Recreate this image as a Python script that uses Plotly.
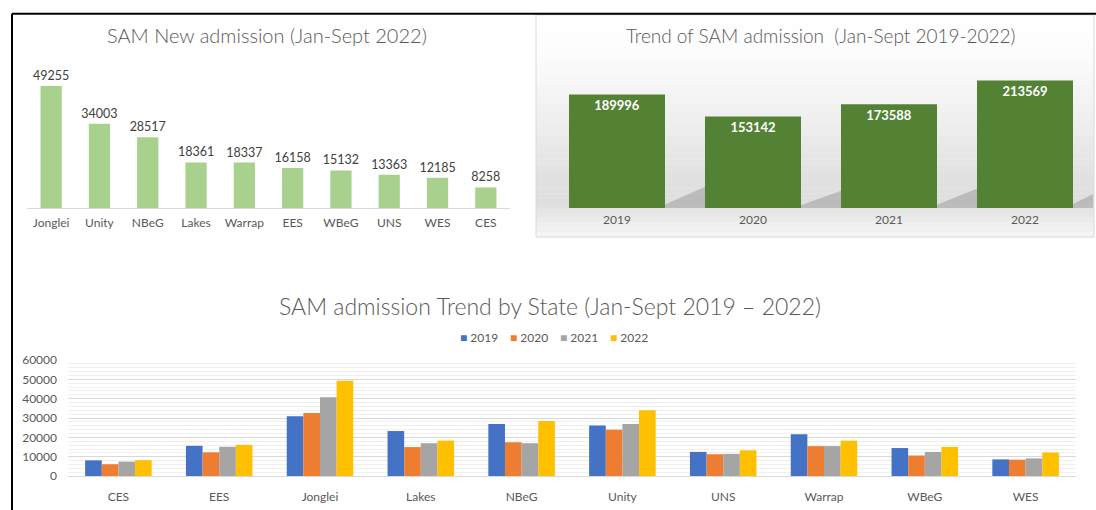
import plotly.graph_objects as go

# ---------------- data ----------------
states_2022_sorted = ["Jonglei", "Unity", "NBeG", "Lakes", "Warrap", "EES", "WBeG", "UNS", "WES", "CES"]
admission_2022_sorted = [49255, 34003, 28517, 18361, 18337, 16158, 15132, 13363, 12185, 8258]

years = ["2019", "2020", "2021", "2022"]
total_by_year = [189996, 153142, 173588, 213569]

states = ["CES", "EES", "Jonglei", "Lakes", "NBeG", "Unity", "UNS", "Warrap", "WBeG", "WES"]
adm_2019 = [8150, 15650, 31000, 23300, 27000, 26150, 12500, 21650, 14500, 8650]
adm_2020 = [6150, 12300, 32650, 15000, 17500, 24000, 11300, 15500, 10650, 8500]
adm_2021 = [7500, 15150, 40800, 17000, 17000, 27000, 11500, 15500, 12500, 9150]
adm_2022 = [8258, 16158, 49255, 18361, 28517, 34003, 13363, 18337, 15132, 12185]

series_colors = ["#4472C4", "#ED7D31", "#A5A5A5", "#FFC000"]

# ---------------- layout helpers ----------------
W, H = 1096, 510
FONT = "Lato"
GRAY_TXT = "#595959"


def fx(p):
    return p / W


def fy(p):
    return 1 - p / H


fig = go.Figure()

# top-left chart
fig.add_trace(go.Bar(
    x=states_2022_sorted, y=admission_2022_sorted, width=0.44,
    marker=dict(color="#A9D18E", line=dict(width=0)),
    text=[str(v) for v in admission_2022_sorted], textposition="outside", constraintext="none",
    textfont=dict(family=FONT, size=12.5, color="#404040"),
    cliponaxis=False, xaxis="x", yaxis="y", showlegend=False, hoverinfo="skip",
))

# top-right chart
fig.add_trace(go.Bar(
    x=years, y=total_by_year, width=0.706,
    marker=dict(color="#548235", line=dict(width=0)),
    text=[str(v) for v in total_by_year], textposition="inside", insidetextanchor="end",
    constraintext="none",
    textfont=dict(family=FONT, size=13, color="white", weight="bold"),
    xaxis="x2", yaxis="y2", showlegend=False, hoverinfo="skip",
))

# bottom chart
for name, vals, col in zip(years, [adm_2019, adm_2020, adm_2021, adm_2022], series_colors):
    fig.add_trace(go.Bar(
        x=states, y=vals, name=name, marker=dict(color=col, line=dict(width=0)),
        xaxis="x3", yaxis="y3", hoverinfo="skip", showlegend=False,
    ))

shapes = []

# gradient background of the top-right panel (decoration)
panel_x0, panel_x1, panel_y0, panel_y1 = 536, 1094, 7, 236
stops = [(7, 255), (50, 252), (110, 240), (170, 226), (200, 222), (215, 232), (236, 246)]
nb = 46
for k in range(nb):
    a = panel_y0 + (panel_y1 - panel_y0) * k / nb
    b = panel_y0 + (panel_y1 - panel_y0) * (k + 1) / nb
    m = (a + b) / 2
    for (p0, c0), (p1, c1) in zip(stops[:-1], stops[1:]):
        if p0 <= m <= p1:
            c = c0 + (c1 - c0) * (m - p0) / (p1 - p0)
            break
    c = int(round(c))
    shapes.append(dict(type="rect", xref="paper", yref="paper",
                       x0=fx(panel_x0), x1=fx(panel_x1), y0=fy(b), y1=fy(a) + 0.0005,
                       fillcolor=f"rgb({c},{c},{c})", line=dict(width=0), layer="below"))
shapes.append(dict(type="rect", xref="paper", yref="paper",
                   x0=fx(panel_x0), x1=fx(panel_x1), y0=fy(panel_y1), y1=fy(panel_y0),
                   line=dict(color="#D9D9D9", width=1), fillcolor="rgba(0,0,0,0)", layer="below"))

# perspective shadows behind the dark-green bars
half = 0.706 / 2
for i, v in enumerate(total_by_year):
    x0 = i + half
    shapes.append(dict(type="path", xref="x2", yref="y2",
                       path=f"M {x0},0 L {x0},{v*0.03} L {x0+0.30},{v*0.19} L {x0+0.30},0 Z",
                       fillcolor="rgba(120,120,120,0.35)", line=dict(width=0), layer="below"))

# outer black frame lines
shapes.append(dict(type="line", xref="paper", yref="paper", x0=fx(12), x1=1, y0=fy(6), y1=fy(6),
                   line=dict(color="black", width=2)))
shapes.append(dict(type="line", xref="paper", yref="paper", x0=fx(12), x1=fx(12), y0=-0.02, y1=fy(6),
                   line=dict(color="black", width=2)))

annotations = [
    dict(text="SAM New admission (Jan-Sept 2022)", x=fx(267), y=fy(28), xref="paper", yref="paper",
         showarrow=False, xanchor="center", yanchor="middle",
         font=dict(family=FONT, size=20, color=GRAY_TXT, weight=300)),
    dict(text="Trend of SAM admission  (Jan-Sept 2019-2022)", x=fx(821), y=fy(28), xref="paper", yref="paper",
         showarrow=False, xanchor="center", yanchor="middle",
         font=dict(family=FONT, size=19, color=GRAY_TXT, weight=300)),
    dict(text="SAM admission Trend by State (Jan-Sept 2019 \u2013 2022)", x=fx(550), y=fy(307), xref="paper",
         yref="paper", showarrow=False, xanchor="center", yanchor="middle",
         font=dict(family=FONT, size=23, color=GRAY_TXT, weight=300)),
]

# compact legend (coloured square + year), as in the reference
for k, (name, col) in enumerate(zip(years, series_colors)):
    annotations.append(dict(
        text=f"<span style='color:{col}'>\u25A0</span> {name}",
        x=fx(458 + 50 * k), y=fy(339), xref="paper", yref="paper", showarrow=False,
        xanchor="left", yanchor="middle", font=dict(family=FONT, size=12, color=GRAY_TXT),
    ))

tick_font = dict(family=FONT, size=12, color=GRAY_TXT)

fig.update_layout(
    width=W, height=H, margin=dict(l=0, r=0, t=0, b=0), autosize=False,
    paper_bgcolor="white", plot_bgcolor="rgba(0,0,0,0)",
    barmode="group", bargap=0.34,
    shapes=shapes, annotations=annotations,
    font=dict(family=FONT, color=GRAY_TXT),
    showlegend=False,
    xaxis=dict(domain=[fx(27), fx(510)], range=[-0.5, 9.5], showgrid=False, zeroline=False,
               showline=True, linecolor="#D9D9D9", linewidth=1, tickfont=tick_font,
               ticklabelstandoff=4, fixedrange=True),
    yaxis=dict(domain=[fy(206), fy(60)], range=[0, 146 * 391.9], visible=False, fixedrange=True),
    xaxis2=dict(domain=[fx(549), fx(1093)], range=[-0.5, 3.5], showgrid=False, zeroline=False,
                showline=False, tickfont=tick_font, ticklabelstandoff=3, anchor="y2", fixedrange=True),
    yaxis2=dict(domain=[fy(206), fy(60)], range=[0, 146 * 1625], visible=False, anchor="x2", fixedrange=True),
    xaxis3=dict(domain=[fx(68), fx(1076)], range=[-0.5, 9.5], showgrid=False, zeroline=False,
                showline=True, linecolor="#D9D9D9", linewidth=1, tickfont=tick_font,
                ticklabelstandoff=9, anchor="y3", fixedrange=True),
    yaxis3=dict(domain=[fy(482.3), fy(362.7)], range=[0, 60000], dtick=10000, tickformat="d",
                tickfont=tick_font,
                showgrid=True, gridcolor="#D9D9D9", gridwidth=1, zeroline=False,
                minor=dict(dtick=2000, showgrid=True, gridcolor="#F0F0F0", gridwidth=1),
                ticklabelstandoff=10, anchor="x3", fixedrange=True),
)

fig.write_html(
    "out.html",
    config={"responsive": False, "displayModeBar": False},
    post_script="document.body.style.margin='0';document.body.style.overflow='hidden';",
)
